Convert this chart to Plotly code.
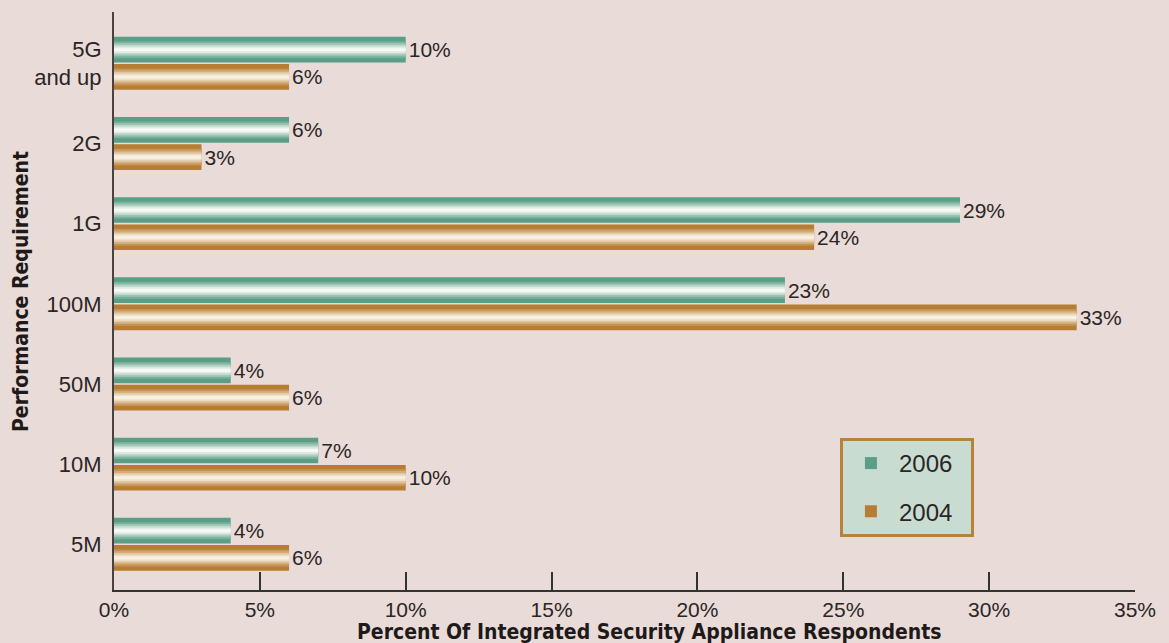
import plotly.graph_objects as go

# ---- data (bottom to top) ----
categories = ["5M", "10M", "50M", "100M", "1G", "2G", "5G<br>and up"]
v2006 = [4, 7, 4, 23, 29, 6, 10]
v2004 = [6, 10, 6, 33, 24, 3, 6]
series_names = ["2006", "2004"]
x_ticks = [0, 5, 10, 15, 20, 25, 30, 35]
x_title = "Percent Of Integrated Security Appliance Respondents"
y_title = "Performance Requirement"

# ---- styling ----
BG = "#e9dbd7"
TXT = "#2a2626"
FONT = "Liberation Sans, Arial, sans-serif"
TITLE_FONT = "DejaVu Sans Condensed, Liberation Sans Narrow, sans-serif"

def mix(c1, c2, t):
    a = [int(c1[i:i + 2], 16) for i in (1, 3, 5)]
    b = [int(c2[i:i + 2], 16) for i in (1, 3, 5)]
    return "#%02x%02x%02x" % tuple(round(a[j] + (b[j] - a[j]) * t) for j in range(3))

series = [
    dict(name=series_names[0], vals=v2006, dark="#5a9e87", light="#f6f9f4", center=0.17),
    dict(name=series_names[1], vals=v2004, dark="#b77d33", light="#f8f0e2", center=-0.17),
]
W = 0.32
layers = [(1.0, 0.0), (0.66, 0.2), (0.52, 0.42), (0.38, 0.64), (0.25, 0.85), (0.12, 1.0)]

fig = go.Figure()
for s in series:
    for k, (frac, t) in enumerate(layers):
        w = W * frac
        outer = k == 0
        fig.add_trace(go.Bar(
            y=categories,
            x=s["vals"],
            orientation="h",
            name=s["name"] + "\u00a0\u00a0",
            legendgroup=s["name"],
            showlegend=outer,
            width=w,
            offset=s["center"] - w / 2,
            marker=dict(color=mix(s["dark"], s["light"], t), line=dict(width=0)),
            text=[f"{v}%" for v in s["vals"]] if outer else None,
            textposition="outside" if outer else "none",
            textfont=dict(family=FONT, size=21, color=TXT),
            cliponaxis=False,
        ))

fig.update_layout(
    width=1169,
    height=643,
    margin=dict(l=114, r=34, t=12, b=53),
    paper_bgcolor=BG,
    plot_bgcolor=BG,
    barmode="overlay",
    font=dict(family=FONT, size=21, color=TXT),
    legend=dict(
        x=0.711, y=0.263, xanchor="left", yanchor="top",
        bgcolor="#c9dcd2", bordercolor="#b8823a", borderwidth=3,
        font=dict(family=FONT, size=24, color=TXT),
        tracegroupgap=14,
        itemwidth=46,
    ),
    showlegend=True,
    annotations=[
        dict(
            text=f"<b>{x_title}</b>", xref="paper", yref="paper",
            x=0.524, y=0, yshift=-42, xanchor="center", yanchor="middle",
            showarrow=False, font=dict(family=TITLE_FONT, size=21, color="#1e1a1a"),
        ),
        dict(
            text=f"<b>{y_title}</b>", xref="paper", yref="paper",
            x=0, xshift=-93, y=0.5156, xanchor="center", yanchor="middle",
            textangle=-90,
            showarrow=False, font=dict(family=TITLE_FONT, size=21, color="#1e1a1a"),
        ),
    ],
)

fig.update_xaxes(
    automargin=False,
    range=[0, 35],
    tickvals=x_ticks,
    ticktext=[f"{v}%" for v in x_ticks],
    ticks="inside", ticklen=18, tickwidth=1.5, tickcolor="#333333",
    showline=True, linecolor="#333333", linewidth=1.5,
    showgrid=False, zeroline=False,
    tickfont=dict(family=FONT, size=21, color=TXT),
)

fig.update_yaxes(
    automargin=False,
    type="category",
    categoryorder="array", categoryarray=categories,
    range=[-0.57, 6.64],
    showline=True, linecolor="#4a4242", linewidth=2,
    ticks="", showgrid=False, zeroline=False,
    ticklabelstandoff=6,
    tickfont=dict(family=FONT, size=22, color=TXT),
)

fig.write_html("out.html")
